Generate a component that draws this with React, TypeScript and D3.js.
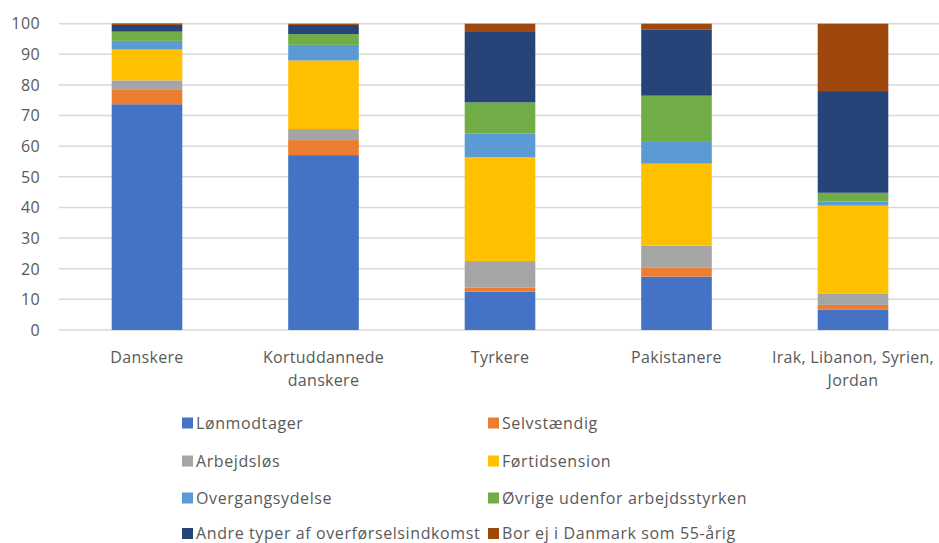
import React from "react";
import * as d3 from "d3";

const categories = ["Danskere", "Kortuddannede danskere", "Tyrkere", "Pakistanere", "Irak, Libanon, Syrien, Jordan"];
const categoryLines = [["Danskere"], ["Kortuddannede", "danskere"], ["Tyrkere"], ["Pakistanere"], ["Irak, Libanon, Syrien,", "Jordan"]];
const seriesNames = [
  "Lønmodtager",
  "Selvstændig",
  "Arbejdsløs",
  "Førtidsension",
  "Overgangsydelse",
  "Øvrige udenfor arbejdsstyrken",
  "Andre typer af overførselsindkomst",
  "Bor ej i Danmark som 55-årig",
];
const lonmodtager = [73.7, 57.1, 12.5, 17.4, 6.6];
const selvstaendig = [4.9, 4.9, 1.4, 2.9, 1.6];
const arbejdslos = [2.9, 3.6, 8.6, 7.2, 3.6];
const fortidspension = [10.1, 22.4, 33.9, 26.8, 28.8];
const overgangsydelse = [2.8, 5.1, 7.8, 7.1, 1.4];
const ovrige = [3.0, 3.5, 10.1, 15.1, 2.8];
const andre = [2.2, 3.0, 23.0, 21.5, 33.2];
const borEj = [0.5, 0.4, 2.7, 2.0, 22.0];
const yTicks = [0, 10, 20, 30, 40, 50, 60, 70, 80, 90, 100];
const colors = ["#4472C4", "#ED7D31", "#A5A5A5", "#FFC000", "#5B9BD5", "#70AD47", "#264478", "#9E480E"];

const seriesValues = [lonmodtager, selvstaendig, arbejdslos, fortidspension, overgangsydelse, ovrige, andre, borEj];

export default function App() {
  const W = 939, H = 543;
  const left = 58.75, right = 941.25, top = 23.7, bottom = 330;
  const x = d3.scaleBand().domain(categories).range([left, right]).paddingInner(0.6).paddingOuter(0.3);
  const y = d3.scaleLinear().domain([0, 100]).range([bottom, top]);
  const rows = categories.map((c, i) => {
    const r: any = { cat: c };
    seriesNames.forEach((s, j) => (r[s] = seriesValues[j][i]));
    return r;
  });
  const stack = d3.stack().keys(seriesNames)(rows as any);
  const font = "'Open Sans', 'Liberation Sans', sans-serif";
  const textColor = "#595959";
  const legendX = [182, 488];
  const legendY = [423, 461, 498, 533.5];
  return (
    <svg width={W} height={H} style={{ position: "absolute", left: 0, top: 0, background: "#fff" }} fontFamily={font}>
      {yTicks.map((t) => (
        <g key={t}>
          <line x1={left} x2={W} y1={y(t)} y2={y(t)} stroke="#d9d9d9" strokeWidth={1.5} />
          <text x={40} y={y(t)} dy="0.36em" textAnchor="end" fontSize={16} letterSpacing={0.4} fill={textColor}>{t}</text>
        </g>
      ))}
      {stack.map((layer, j) => (
        <g key={j} fill={colors[j]}>
          {layer.map((d, i) => (
            <rect key={i} x={x(categories[i])} width={x.bandwidth()} y={y(d[1])} height={y(d[0]) - y(d[1])} />
          ))}
        </g>
      ))}
      {categoryLines.map((lines, i) => (
        <text key={i} textAnchor="middle" fontSize={16} letterSpacing={0.3} fill={textColor}>
          {lines.map((l, k) => (
            <tspan key={k} x={(x(categories[i]) as number) + x.bandwidth() / 2} y={363 + k * 23}>{l}</tspan>
          ))}
        </text>
      ))}
      {seriesNames.map((s, j) => {
        const lx = legendX[j % 2];
        const ly = legendY[Math.floor(j / 2)];
        return (
          <g key={s}>
            <rect x={lx} y={ly - 5.5} width={11} height={11} fill={colors[j]} />
            <text x={lx + 14} y={ly} dy="0.36em" fontSize={16} letterSpacing={0.6} fill={textColor}>{s}</text>
          </g>
        );
      })}
    </svg>
  );
}
